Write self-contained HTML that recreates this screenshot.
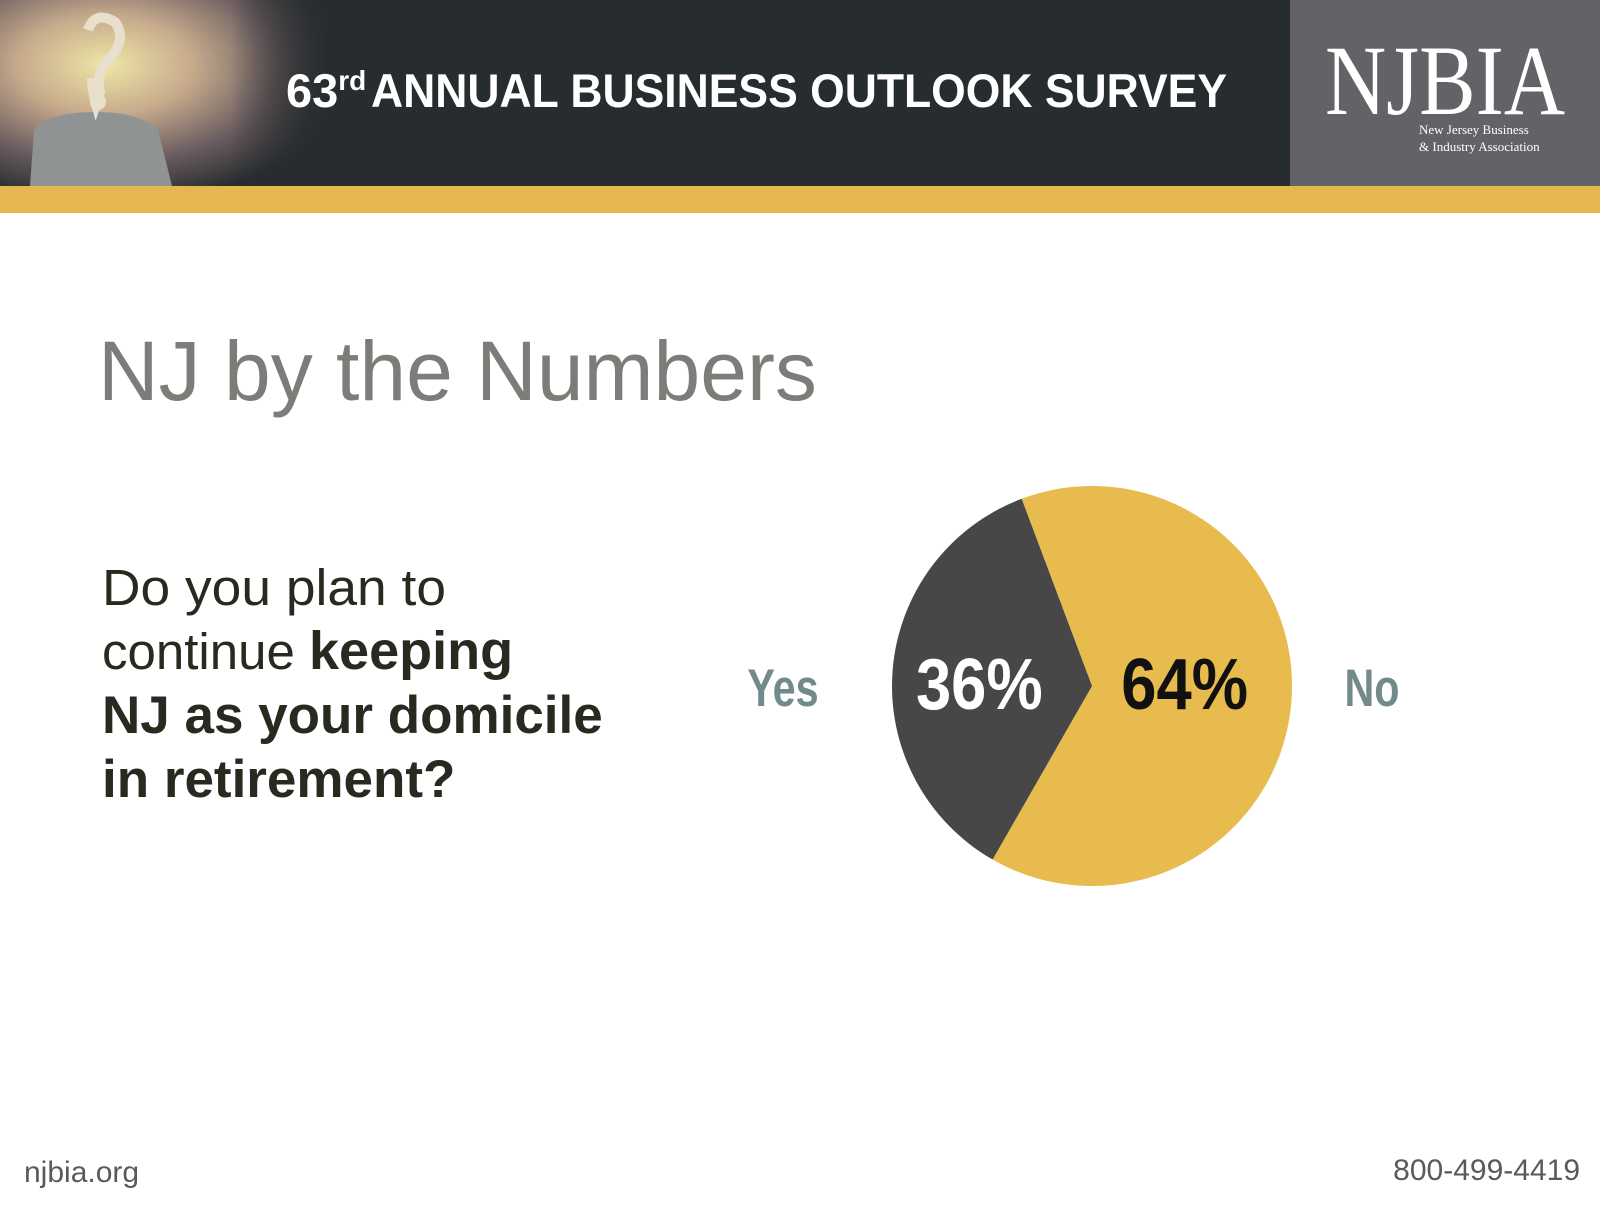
<!DOCTYPE html>
<html><head><meta charset="utf-8"><style>
html,body{margin:0;padding:0;background:#fff;}
body{width:1600px;height:1200px;position:relative;overflow:hidden;font-family:"Liberation Sans",Arial,sans-serif;}
</style></head><body>
<svg width="1600" height="1200" viewBox="0 0 1600 1200" xmlns="http://www.w3.org/2000/svg">
<defs>
<radialGradient id="glow" cx="0.32" cy="0.35" r="0.75">
<stop offset="0" stop-color="#efe6a6"/><stop offset="0.35" stop-color="#c7ab8c"/><stop offset="0.7" stop-color="#6a5c60"/><stop offset="1" stop-color="#272c2e"/>
</radialGradient>
<linearGradient id="fade" x1="0" x2="1"><stop offset="0.7" stop-color="#272c2e" stop-opacity="0"/><stop offset="1" stop-color="#272c2e"/></linearGradient>
</defs>
<g>
<rect x="0" y="0" width="1290" height="186" fill="#272c2e"/>
<rect x="0" y="0" width="330" height="186" fill="url(#glow)"/>
<rect x="0" y="0" width="330" height="186" fill="url(#fade)"/>
<g>
<path d="M30 186 L34 130 Q50 112 95 112 Q140 112 158 130 L172 186 Z" fill="#8f9394"/>
<path d="M88 30 Q95 10 115 22 Q128 40 108 60 Q96 74 100 92 L96 104 Q92 90 92 78" stroke="#e8e0cc" stroke-width="10" fill="none"/>
<circle cx="98" cy="102" r="8" fill="#e8e0cc"/>
</g>
<text x="286" y="107" fill="#fff" font-size="47" font-weight="bold">63<tspan font-size="28" dy="-17">rd</tspan><tspan dy="17" x="371" textLength="856" lengthAdjust="spacingAndGlyphs">ANNUAL BUSINESS OUTLOOK SURVEY</tspan></text>
<rect x="1290" y="0" width="310" height="186" fill="#636266"/>
<text x="1325" y="114" fill="#fff" font-family="'Liberation Serif',serif" font-size="100" textLength="240" lengthAdjust="spacingAndGlyphs">NJBIA</text>
<text x="1419" y="134" fill="#fff" font-family="'Liberation Serif',serif" font-size="13">New Jersey Business</text>
<text x="1419" y="151" fill="#fff" font-family="'Liberation Serif',serif" font-size="13">&amp; Industry Association</text>
</g>
<rect x="0" y="186" width="1600" height="27" fill="#e5b84f"/>
<text x="98" y="400" fill="#7d7c78" font-size="84">NJ by the Numbers</text>
<g fill="#2a2920" font-size="51">
<text x="102" y="605" textLength="344" lengthAdjust="spacingAndGlyphs">Do you plan to</text>
<text x="102" y="669">continue <tspan font-weight="bold" font-size="54">keeping</tspan></text>
<text x="102" y="733" font-weight="bold" font-size="53">NJ as your domicile</text>
<text x="102" y="797" font-weight="bold" font-size="53">in retirement?</text>
</g>
<g id="pie"></g>
<text x="783" y="706" text-anchor="middle" fill="#728a8a" font-size="53" font-weight="bold" transform="translate(783 0) scale(0.78 1) translate(-783 0)">Yes</text>
<text x="1372" y="706" text-anchor="middle" fill="#728a8a" font-size="53" font-weight="bold" transform="translate(1372 0) scale(0.78 1) translate(-1372 0)">No</text>
<text x="24" y="1182" fill="#5a5a5a" font-size="30">njbia.org</text>
<text x="1580" y="1180" text-anchor="end" fill="#5a5a5a" font-size="30">800-499-4419</text>
</svg>
<script>
const categories = ["No", "Yes"];
const values = [64, 36];
const valueLabels = ["64%", "36%"];
const colors = ["#e8bb4f", "#474747"];
const labelColors = ["#111", "#fff"];
const cx = 1092, cy = 686, r = 200, startDeg = -20.6;
const NS = "http://www.w3.org/2000/svg";
const g = document.getElementById("pie");
const total = values.reduce((a, b) => a + b, 0);
function pt(deg, rad) { const a = deg * Math.PI / 180; return [cx + rad * Math.sin(a), cy - rad * Math.cos(a)]; }
let acc = startDeg;
values.forEach((v, i) => {
  const sweep = v / total * 360;
  const a0 = acc, a1 = acc + sweep;
  const p0 = pt(a0, r), p1 = pt(a1, r);
  const path = document.createElementNS(NS, "path");
  path.setAttribute("d", `M${cx} ${cy} L${p0[0]} ${p0[1]} A${r} ${r} 0 ${sweep > 180 ? 1 : 0} 1 ${p1[0]} ${p1[1]} Z`);
  path.setAttribute("fill", colors[i]);
  
  
  g.appendChild(path);
  acc = a1;
});
acc = startDeg;
values.forEach((v, i) => {
  const sweep = v / total * 360;
  const mid = acc + sweep / 2;
  acc += sweep;
  const lp = pt(mid, i === 0 ? 93 : 113);
  const t = document.createElementNS(NS, "text");
  t.setAttribute("x", lp[0]);
  t.setAttribute("y", cy + 23);
  t.setAttribute("text-anchor", "middle");
  t.setAttribute("font-size", "72");
  t.setAttribute("font-weight", "bold");
  t.setAttribute("fill", labelColors[i]);
  t.setAttribute("transform", `translate(${lp[0]} 0) scale(0.88 1) translate(${-lp[0]} 0)`);
  t.textContent = valueLabels[i];
  
  
  g.appendChild(t);
});
</script>
</body></html>
